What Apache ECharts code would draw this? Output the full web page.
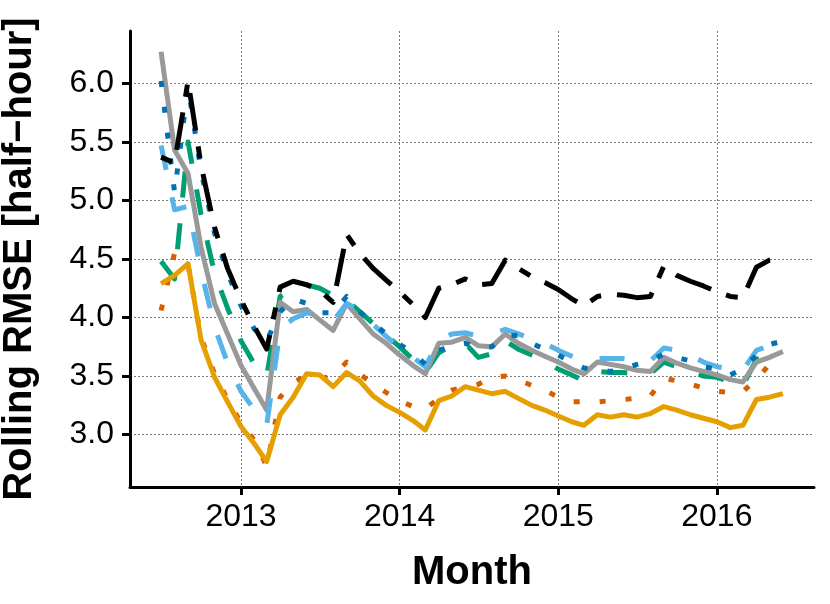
<!DOCTYPE html>
<html><head><meta charset="utf-8">
<script src="https://cdn.jsdelivr.net/npm/echarts@6/dist/echarts.min.js"></script>
<style>html,body{margin:0;padding:0;background:#fff}#c{width:830px;height:604px}</style>
</head><body><div id="c"></div>
<script>
const months = ['2012-07','2012-08','2012-09','2012-10','2012-11','2012-12',
 '2013-01','2013-02','2013-03','2013-04','2013-05','2013-06','2013-07','2013-08','2013-09','2013-10','2013-11','2013-12',
 '2014-01','2014-02','2014-03','2014-04','2014-05','2014-06','2014-07','2014-08','2014-09','2014-10','2014-11','2014-12',
 '2015-01','2015-02','2015-03','2015-04','2015-05','2015-06','2015-07','2015-08','2015-09','2015-10','2015-11','2015-12',
 '2016-01','2016-02','2016-03','2016-04','2016-05','2016-06'];
const xTickLabels = ['2013','2014','2015','2016'];
const yTicks = [3.0,3.5,4.0,4.5,5.0,5.5,6.0];

const vermillion = [4.06,4.55,4.45,3.83,3.52,3.30,3.10,2.95,2.73,3.32,3.45,3.50,3.48,3.50,3.62,3.52,3.43,3.36,3.29,3.24,3.22,3.31,3.38,3.41,3.43,3.49,3.50,3.47,3.42,3.38,3.32,3.28,3.28,3.28,3.29,3.30,3.31,3.33,3.48,3.46,3.43,3.40,3.37,3.36,3.37,3.47,3.60,3.66];
const green = [4.48,4.33,5.50,4.88,4.38,4.08,3.80,3.60,3.50,4.18,4.26,4.28,4.25,4.19,4.15,4.05,3.95,3.85,3.75,3.64,3.53,3.70,3.76,3.78,3.66,3.69,3.80,3.73,3.68,3.63,3.56,3.51,3.46,3.54,3.53,3.53,3.52,3.52,3.62,3.58,3.54,3.50,3.49,3.45,3.42,3.64,3.70,3.74];
const gray = [6.27,5.43,5.23,4.60,4.12,3.86,3.59,3.39,3.21,4.13,4.05,4.07,3.98,3.89,4.12,3.99,3.86,3.78,3.68,3.59,3.52,3.78,3.79,3.83,3.76,3.75,3.86,3.78,3.72,3.67,3.62,3.56,3.52,3.62,3.60,3.58,3.55,3.54,3.66,3.61,3.57,3.54,3.51,3.47,3.45,3.62,3.66,3.71];
const lightBlue = [5.47,4.92,4.95,4.40,3.92,3.61,3.37,3.21,3.08,3.90,3.99,4.04,4.02,3.97,4.12,4.06,3.94,3.84,3.74,3.66,3.58,3.80,3.86,3.87,3.84,3.86,3.90,3.86,3.82,3.78,3.72,3.67,3.63,3.65,3.65,3.65,3.64,3.63,3.74,3.72,3.68,3.62,3.58,3.56,3.55,3.72,3.76,3.79];
const darkBlue = [6.02,5.07,5.97,5.25,4.72,4.38,4.10,3.90,3.80,4.05,4.16,4.12,4.04,4.04,4.18,4.05,3.95,3.86,3.77,3.70,3.60,3.72,3.76,3.78,3.74,3.75,3.84,3.85,3.78,3.73,3.68,3.62,3.57,3.56,3.54,3.56,3.60,3.63,3.69,3.66,3.63,3.58,3.56,3.51,3.56,3.68,3.77,3.80];
const orange = [4.29,4.36,4.46,3.81,3.49,3.28,3.07,2.92,2.77,3.17,3.32,3.52,3.51,3.41,3.53,3.46,3.33,3.25,3.19,3.12,3.04,3.29,3.33,3.41,3.38,3.35,3.37,3.31,3.25,3.21,3.16,3.11,3.08,3.17,3.15,3.17,3.15,3.18,3.24,3.21,3.17,3.14,3.11,3.06,3.08,3.30,3.32,3.35];
const black = [5.37,5.32,6.02,5.30,4.77,4.42,4.15,3.92,3.73,4.26,4.31,4.28,4.23,4.13,4.71,4.55,4.42,4.32,4.22,4.11,4.00,4.25,4.28,4.33,4.28,4.29,4.49,4.42,4.35,4.30,4.24,4.16,4.10,4.18,4.20,4.19,4.17,4.18,4.44,4.36,4.31,4.27,4.22,4.18,4.17,4.43,4.49,4.51];

function monthTs(s){ const p = s.split('-'); return Date.UTC(+p[0], +p[1]-1, 1); }
const xs = months.map(monthTs);
const xPad = (xs[xs.length-1]-xs[0])*0.05;
const xMin = xs[0]-xPad, xMax = xs[xs.length-1]+xPad;
const xTicks = xTickLabels.map(y => Date.UTC(+y,0,1));

const all = [].concat(vermillion,green,gray,lightBlue,darkBlue,orange,black);
const dMin = Math.min.apply(null, all), dMax = Math.max.apply(null, all);
const yPad = (dMax-dMin)*0.05;

const defs = [
  {name:'vermillion', data:vermillion, color:'#D55E00', type:[6,20]},
  {name:'green', data:green, color:'#009E73', type:[26,26]},
  {name:'gray', data:gray, color:'#999999', type:'solid'},
  {name:'lightBlue', data:lightBlue, color:'#56B4E9', type:[25,28]},
  {name:'darkBlue', data:darkBlue, color:'#0072B2', type:[6,20]},
  {name:'orange', data:orange, color:'#E69F00', type:'solid'},
  {name:'black', data:black, color:'#000000', type:[12,16,38,16]}
];

const FONT = '"Liberation Sans", Arial, Helvetica, sans-serif';
const chart = echarts.init(document.getElementById('c'), null, {renderer:'canvas'});
chart.setOption({
  animation:false,
  backgroundColor:'#ffffff',
  grid:{left:130, right:16, top:31, bottom:117, containLabel:false, outerBoundsMode:'none'},
  xAxis:{
    type:'value', min:xMin, max:xMax,
    name:'Month', nameLocation:'middle', nameGap:66,
    nameTextStyle:{fontFamily:FONT, fontSize:40, fontWeight:'bold', color:'#000'},
    axisLine:{show:true, onZero:false, lineStyle:{color:'#000', width:3}},
    axisTick:{show:true, length:8, lineStyle:{color:'#000', width:3}, customValues:xTicks},
    axisLabel:{show:true, margin:14, customValues:xTicks, fontFamily:FONT, fontSize:32, color:'#000',
      formatter: v => String(new Date(v).getUTCFullYear())},
    splitLine:{show:true, lineStyle:{color:'#7a7a7a', width:1, type:[2,2]}}
  },
  yAxis:{
    type:'value', min:dMin-yPad, max:dMax+yPad,
    name:'Rolling RMSE [half\u2212hour]', nameLocation:'middle', nameGap:90,
    nameTextStyle:{fontFamily:FONT, fontSize:40, fontWeight:'bold', color:'#000'},
    axisLine:{show:true, lineStyle:{color:'#000', width:3}},
    axisTick:{show:true, length:8, lineStyle:{color:'#000', width:3}, customValues:yTicks},
    axisLabel:{show:true, margin:16, customValues:yTicks, fontFamily:FONT, fontSize:32, color:'#000',
      formatter: v => Number(v).toFixed(1)},
    splitLine:{show:true, lineStyle:{color:'#7a7a7a', width:1, type:[2,2]}}
  },
  series: defs.map((d,i) => ({
    name:d.name, type:'line', z:2+i, showSymbol:false, symbol:'none', silent:true,
    data: d.data.map((v,j) => [xs[j], v]),
    lineStyle:{color:d.color, width:5, type:d.type, cap:'butt', join:'round'}
  }))
});
</script></body></html>
